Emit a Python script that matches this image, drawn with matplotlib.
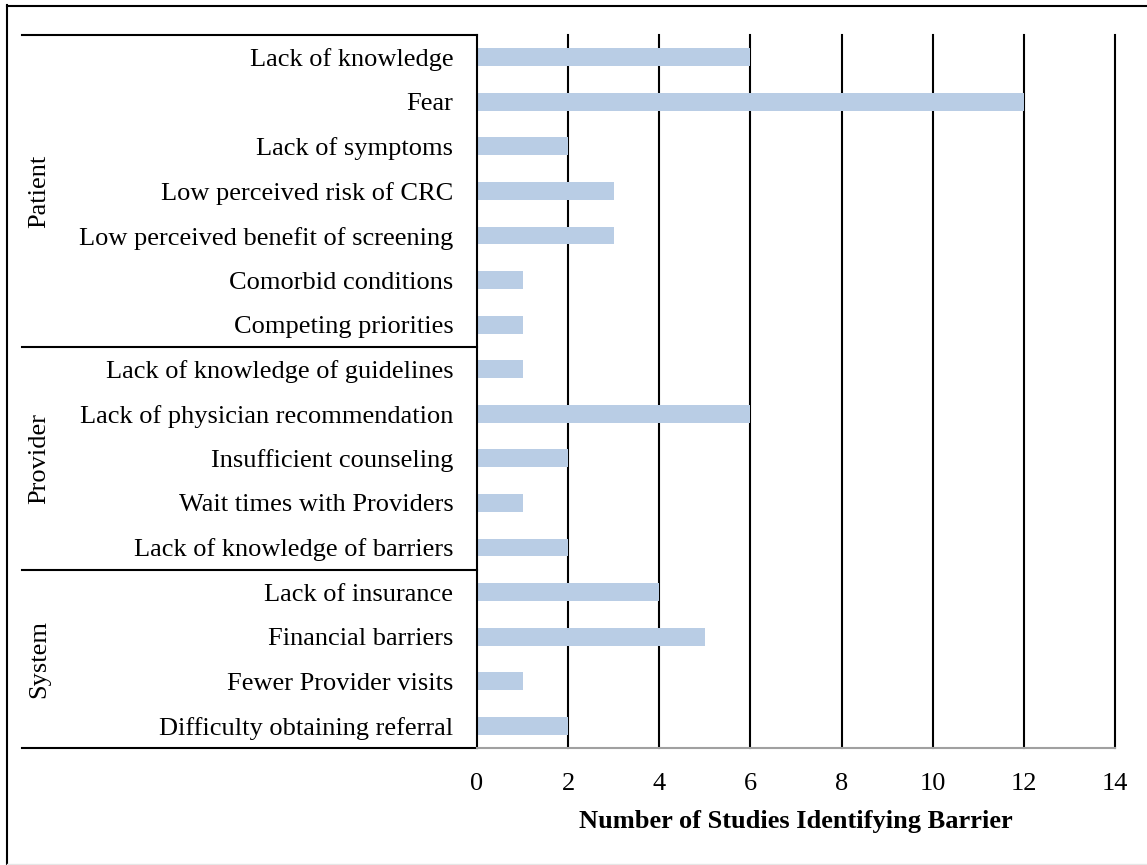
import matplotlib
matplotlib.use("Agg")
import matplotlib.pyplot as plt
from matplotlib.lines import Line2D

categories = [
    "Lack of knowledge", "Fear", "Lack of symptoms", "Low perceived risk of CRC",
    "Low perceived benefit of screening", "Comorbid conditions", "Competing priorities",
    "Lack of knowledge of guidelines", "Lack of physician recommendation",
    "Insufficient counseling", "Wait times with Providers", "Lack of knowledge of barriers",
    "Lack of insurance", "Financial barriers", "Fewer Provider visits",
    "Difficulty obtaining referral",
]
values = [6, 12, 2, 3, 3, 1, 1, 1, 6, 2, 1, 2, 4, 5, 1, 2]
groups = ["Patient", "Provider", "System"]
group_sizes = [7, 5, 4]
xticks = [0, 2, 4, 6, 8, 10, 12, 14]
xlabel = "Number of Studies Identifying Barrier"

plt.rcParams['font.family'] = ['Liberation Serif', 'DejaVu Serif']

W, H = 1147, 865
FS = 19
fig = plt.figure(figsize=(W / 100, H / 100), dpi=100)
ax = fig.add_axes([477 / W, 1 - 748 / H, (1115 - 477) / W, (748 - 35) / H])

ypos = list(range(len(categories)))
ax.barh(ypos, values, height=0.4, color="#B9CDE5", zorder=2)
ax.set_ylim(len(categories) - 0.5, -0.5)
ax.set_xlim(0, 14)
ax.set_xticks(xticks)
ax.set_xticklabels([str(t) for t in xticks], fontsize=FS)
ax.set_yticks(ypos)
ax.set_yticklabels(categories, fontsize=FS)
ax.tick_params(axis='y', length=0, pad=17)
ax.tick_params(axis='x', length=0, pad=18)
for t in xticks[1:]:
    ax.axvline(t, color="black", lw=1.5, zorder=1, clip_on=False)
for s in ["top", "right"]:
    ax.spines[s].set_visible(False)
ax.spines["left"].set_color("black")
ax.spines["left"].set_linewidth(1.5)
ax.spines["bottom"].set_color("#A0A0A0")
ax.spines["bottom"].set_linewidth(1.5)
ax.set_xlabel(xlabel, fontsize=FS, fontweight="bold", labelpad=11)

# group separators and labels (axes-fraction x, data y)
trans = ax.get_yaxis_transform()
x_left = (22 - 477) / (1115 - 477)
start = -0.5
for g, n in zip(groups, group_sizes):
    end = start + n
    ax.add_line(Line2D([x_left, 0], [start, start], transform=trans, color="black",
                       lw=1.5, clip_on=False))
    ax.text((39 - 477) / (1115 - 477), (start + end) / 2, g, transform=trans,
            rotation=90, va="center", ha="center", fontsize=FS)
    start = end
ax.add_line(Line2D([x_left, 0], [start, start], transform=trans, color="black",
                   lw=1.5, clip_on=False))

# outer border: left and top black, bottom faint gray
ft = fig.transFigure
fig.add_artist(Line2D([6.5 / W, 6.5 / W], [1 - 5 / H, 0], transform=ft, color="black", lw=1.5))
fig.add_artist(Line2D([6.5 / W, 1], [1 - 5.5 / H, 1 - 5.5 / H], transform=ft, color="black", lw=1.5))
fig.add_artist(Line2D([6.5 / W, 1], [1 - 863.5 / H, 1 - 863.5 / H], transform=ft, color="#E6E6E6", lw=1.0))

fig.savefig("out.png", dpi=100)
